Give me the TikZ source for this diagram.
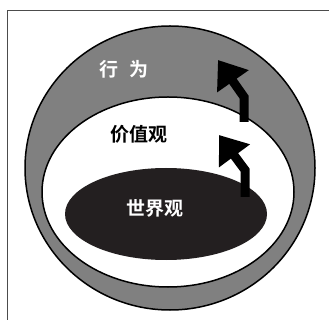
\documentclass[tikz,border=0pt]{standalone}
\usepackage{fontspec}
\newfontfamily\cjk{Noto Sans CJK SC}[BoldFont={Noto Sans CJK SC Bold}]
\usetikzlibrary{arrows.meta}
\definecolor{ringgray}{RGB}{128,128,128}
\definecolor{coreblack}{RGB}{35,31,32}
\tikzset{
	rise/.style = {line width=9pt, line join=miter, -{Triangle[length=26pt, width=37pt]}},
	ring/.style = {line width=1.5pt}
}

\begin{document}
\begin{tikzpicture}[x=1pt, y=-1pt, font=\cjk\bfseries\fontsize{19}{21}\selectfont]
	\useasboundingbox (0,0) rectangle (329,320);
	\draw[gray!60!black, line width=0.8pt] (7,320) -- (7,10) -- (329,10);
	\draw[ring, fill=ringgray] (170,168) ellipse [x radius=145, y radius=142];
	\draw[ring, fill=white] (168,192) ellipse [x radius=126, y radius=95];
	\fill[coreblack] (166,214) ellipse [x radius=101, y radius=46];
	\node[white] (behavior) at (124,69) {行\hspace{0.6em}为};
	\node[black] (values) at (139,134) {价值观};
	\node[white] (worldview) at (155,208) {世界观};
	\coordinate (upfoot) at (244,122);
	\coordinate (upbend) at (244,97);
	\coordinate (uptip) at (218,60);
	\coordinate (lowfoot) at (245,197);
	\coordinate (lowbend) at (245,170);
	\coordinate (lowtip) at (219,135);
	\draw[rise] (upfoot) -- (upbend) -- (uptip);
	\draw[rise] (lowfoot) -- (lowbend) -- (lowtip);
\end{tikzpicture}
\end{document}
